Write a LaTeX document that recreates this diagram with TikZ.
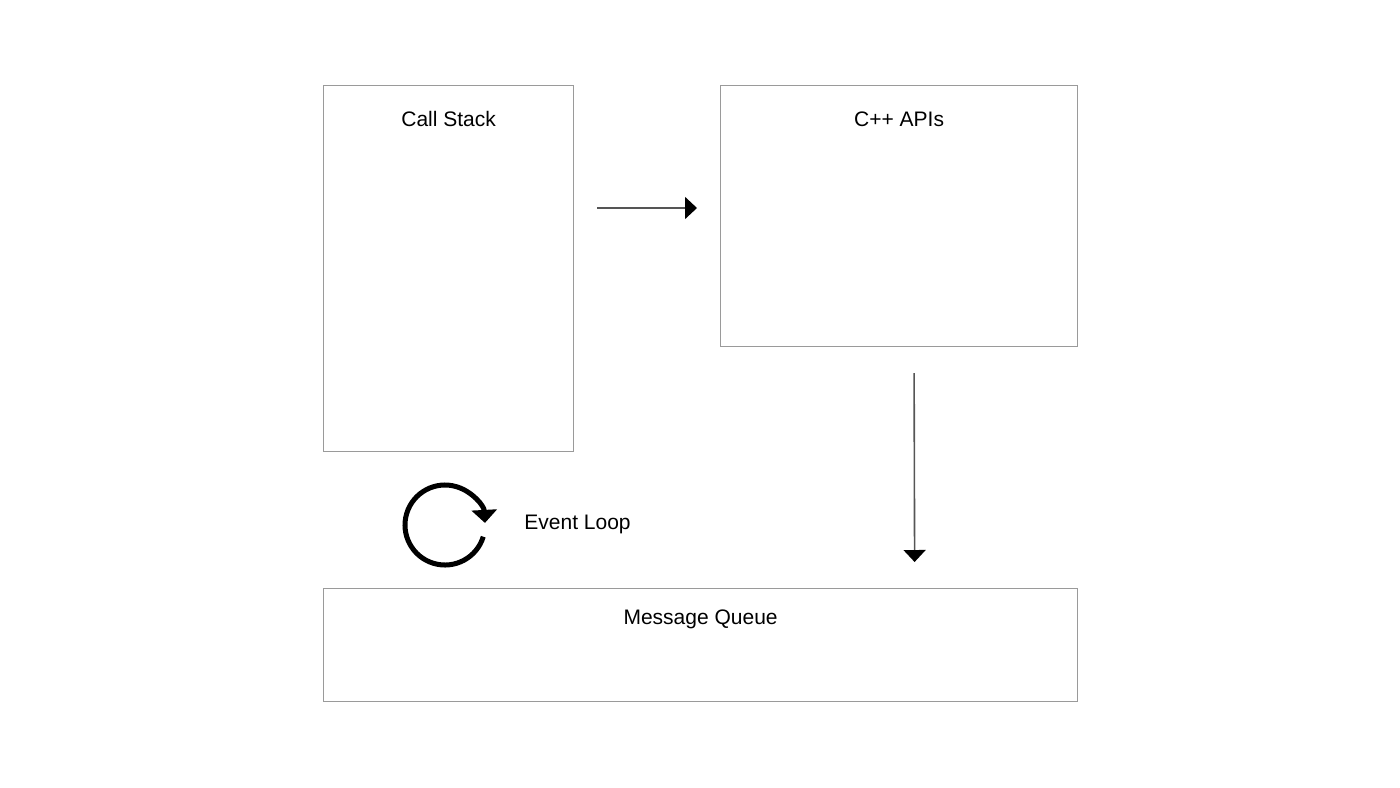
\documentclass[tikz,border=0pt]{standalone}
\usepackage{fontspec}
\setmainfont{Liberation Sans}
\usetikzlibrary{arrows.meta,calc}

\definecolor{boxline}{HTML}{9A9A9A}
\definecolor{arrline}{HTML}{555555}

\tikzset{
  panel/.style={draw=boxline, line width=0.6pt, anchor=north west, inner sep=0pt},
  title/.style={inner sep=0pt, font=\fontsize{10.5}{12}\selectfont},
  flow/.style={draw=arrline, line width=0.8pt, -{Triangle[length=6pt, width=11pt, fill=black, color=black]}},
}

\begin{document}
\begin{tikzpicture}[x=0.5pt, y=-0.5pt, line cap=butt, line join=miter]
  \useasboundingbox (0,0) rectangle (1400,787);

  % Boxes (pixel coordinates, y grows downwards)
  \node[panel, minimum width=125pt, minimum height=183pt] (stack) at (323,85) {};
  \node[panel, minimum width=178.5pt, minimum height=130.5pt] (apis) at (720,85) {};
  \node[panel, minimum width=377pt, minimum height=56.5pt] (queue) at (323,588) {};

  % Box titles
  \node[title] (stacklbl) at ($(stack.north)+(0,34)$) {Call Stack};
  \node[title] (apislbl)  at ($(apis.north)+(0,34)$)  {C++ APIs};
  \node[title] (queuelbl) at ($(queue.north)+(0,31)$) {Message Queue};

  % Arrow ends
  \coordinate (a1) at ($(stack.north east)+(23,123)$);
  \coordinate (a2) at ($(apis.north west)+(-23,123)$);
  \coordinate (b1) at ($(apis.south)+(15,26)$);
  \coordinate (b2) at ($(queue.north)+(214,-26)$);

  % Arrows
  \draw[flow] (a1) -- (a2);
  \draw[flow] (b1) -- (b2);

  % Event loop icon
  \coordinate (loop) at (445,525);
  \draw[line width=2.5pt, -{Triangle[length=6.5pt, width=12.5pt]}]
    ($(loop)+(17:40)$) arc (17:357:40);
  \node[title, anchor=west] (looplbl) at (524,524) {Event Loop};

\end{tikzpicture}
\end{document}
